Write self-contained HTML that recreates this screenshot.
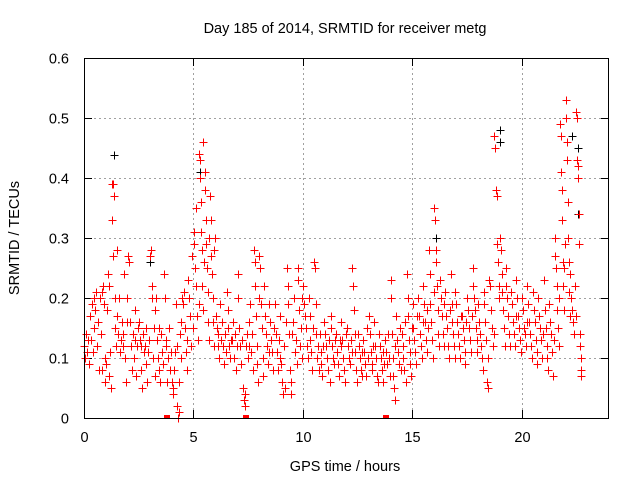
<!DOCTYPE html>
<html><head><meta charset="utf-8"><style>
html,body{margin:0;padding:0;background:#fff;}
svg{display:block;font-family:"Liberation Sans",sans-serif;}
</style></head><body>
<svg id="chart" width="640" height="480" xmlns="http://www.w3.org/2000/svg">
<rect x="0" y="0" width="640" height="480" fill="#fff"/>
<text x="345" y="33" font-size="14.5" text-anchor="middle" fill="#000">Day 185 of 2014, SRMTID for receiver metg</text>
<text transform="translate(19,238) rotate(-90)" font-size="14.5" text-anchor="middle" fill="#000">SRMTID / TECUs</text>
<text x="345" y="471" font-size="14.5" text-anchor="middle" fill="#000">GPS time / hours</text>
<g id="grid" shape-rendering="crispEdges"></g>
<g id="ticks"></g>
<g id="black" shape-rendering="crispEdges"></g>
<g id="red" shape-rendering="crispEdges"></g>
<rect x="84.5" y="58.5" width="524" height="360" fill="none" stroke="#000" stroke-width="1" shape-rendering="crispEdges"/>
</svg>
<script>
const xTicks=[0,5,10,15,20];
const yTicks=[0,0.1,0.2,0.3,0.4,0.5,0.6];
const yTickLabels=["0","0.1","0.2","0.3","0.4","0.5","0.6"];
const binWidth=0.25;
const redBins=[
[0.12,0.10,0.14,0.11,0.13,0.09],[0.17,0.13,0.19,0.11,0.15,0.2],[0.18,0.21,0.12,0.16,0.08,0.2],[0.14,0.21,0.08,0.22,0.19,0.1,0.06],
[0.09,0.18,0.24,0.07,0.22,0.11,0.05],[0.39,0.33,0.27,0.39,0.37,0.2,0.15,0.12,0.28],[0.17,0.14,0.2,0.11,0.13,0.16],[0.12,0.14,0.24,0.1,0.06,0.16,0.2],
[0.27,0.26,0.16,0.12,0.08,0.14],[0.1,0.18,0.13,0.07,0.12,0.15],[0.16,0.13,0.12,0.08,0.05,0.14,0.11],[0.12,0.15,0.09,0.06,0.11,0.13],
[0.27,0.28,0.22,0.2,0.1,0.15,0.07],[0.18,0.2,0.13,0.1,0.15,0.08,0.06],[0.14,0.11,0.09,0.24,0.2,0.12],[0.13,0.06,0.1,0.15,0.08,0.11],
[0.06,0.05,0.04,0.08,0.11,0.19,0.12],[0.02,0.0,0.06,0.01,0.14,0.1,0.16,0.2],[0.19,0.21,0.15,0.11,0.08,0.13],[0.23,0.2,0.17,0.12,0.27,0.15],
[0.31,0.29,0.25,0.22,0.35,0.17,0.13,0.19],[0.44,0.43,0.4,0.36,0.31,0.28,0.22,0.18,0.46,0.26],[0.41,0.38,0.33,0.29,0.25,0.21,0.16,0.13,0.3],[0.37,0.33,0.27,0.24,0.2,0.16,0.12,0.28,0.3],
[0.17,0.15,0.12,0.14,0.1,0.19],[0.13,0.16,0.12,0.09,0.14,0.11],[0.21,0.18,0.15,0.12,0.1,0.13],[0.13,0.16,0.1,0.14,0.08,0.12],
[0.24,0.2,0.15,0.12,0.09,0.13],[0.05,0.03,0.04,0.02,0.12,0.14,0.1],[0.12,0.16,0.19,0.11,0.14,0.08],[0.28,0.26,0.22,0.17,0.12,0.09,0.06,0.2],
[0.27,0.25,0.19,0.15,0.1,0.07,0.22],[0.17,0.14,0.12,0.09,0.19,0.11],[0.16,0.13,0.11,0.08,0.15,0.19],[0.14,0.11,0.08,0.13,0.1,0.17],
[0.09,0.06,0.04,0.12,0.05,0.16],[0.25,0.22,0.19,0.14,0.08,0.06,0.04],[0.14,0.16,0.2,0.11,0.13,0.09],[0.25,0.23,0.18,0.12,0.15,0.1,0.2],
[0.22,0.19,0.17,0.15,0.12,0.1],[0.2,0.17,0.13,0.11,0.08,0.15],[0.26,0.25,0.19,0.14,0.1,0.12,0.08],[0.14,0.11,0.09,0.07,0.12,0.16],
[0.14,0.12,0.1,0.08,0.13,0.06],[0.17,0.15,0.12,0.1,0.09,0.13],[0.14,0.11,0.09,0.07,0.13,0.12],[0.16,0.13,0.1,0.08,0.06,0.14],
[0.15,0.12,0.1,0.09,0.13,0.11],[0.25,0.22,0.18,0.14,0.11,0.08,0.06],[0.14,0.12,0.1,0.08,0.07,0.11],[0.13,0.11,0.09,0.07,0.15,0.1],
[0.17,0.14,0.11,0.09,0.08,0.12],[0.16,0.12,0.1,0.07,0.06,0.14],[0.12,0.1,0.08,0.06,0.11,0.09],[0.13,0.11,0.09,0.14,0.1,0.07],
[0.23,0.2,0.14,0.1,0.07,0.05,0.03,0.12],[0.17,0.13,0.11,0.09,0.15,0.08],[0.14,0.12,0.1,0.08,0.16,0.06],[0.24,0.2,0.17,0.13,0.11,0.09,0.07,0.15],
[0.19,0.15,0.13,0.11,0.09,0.17],[0.2,0.17,0.14,0.12,0.1,0.16],[0.22,0.19,0.16,0.13,0.11,0.18,0.15],[0.28,0.24,0.19,0.16,0.13,0.1,0.21],
[0.35,0.33,0.28,0.26,0.22,0.18,0.14,0.12],[0.23,0.2,0.17,0.14,0.12,0.19],[0.21,0.17,0.15,0.12,0.1,0.18],[0.24,0.19,0.16,0.14,0.12,0.1,0.21],
[0.19,0.16,0.14,0.12,0.1,0.17],[0.17,0.15,0.13,0.11,0.09,0.16],[0.2,0.18,0.15,0.13,0.11,0.17],[0.25,0.22,0.2,0.18,0.15,0.13,0.11],
[0.19,0.16,0.14,0.12,0.1,0.08],[0.21,0.19,0.16,0.13,0.06,0.05,0.1],[0.23,0.22,0.18,0.15,0.12,0.14],[0.47,0.45,0.38,0.37,0.29,0.26,0.22,0.2],
[0.3,0.28,0.24,0.21,0.18,0.15,0.12],[0.25,0.22,0.2,0.17,0.14,0.12],[0.21,0.19,0.16,0.14,0.12,0.17],[0.23,0.2,0.17,0.15,0.13,0.11],
[0.2,0.18,0.15,0.14,0.12,0.16],[0.22,0.19,0.16,0.14,0.12,0.1],[0.21,0.18,0.16,0.13,0.11,0.09],[0.2,0.17,0.15,0.13,0.1,0.14],
[0.23,0.18,0.15,0.12,0.1,0.08],[0.19,0.16,0.14,0.11,0.07,0.13],[0.3,0.27,0.25,0.22,0.18,0.15,0.12,0.2],[0.49,0.47,0.41,0.38,0.33,0.26,0.22,0.18,0.25,0.29],
[0.53,0.5,0.46,0.43,0.36,0.3,0.26,0.21,0.17,0.24],[0.2,0.18,0.16,0.14,0.22,0.17],[0.51,0.5,0.43,0.42,0.4,0.34,0.29,0.14,0.12,0.1,0.08,0.07]
];
const blackTimes=[0.1,1.35,1.35,3.0,5.3,14.8,16.1,19.0,19.0,22.3,22.6,22.6,21.9];
const blackValues=[0.14,0.438,0.37,0.26,0.41,0.2,0.3,0.48,0.46,0.47,0.34,0.45,0.22];
const zeroTimes=[3.8,7.4,13.8];

const L=84,R=609,T=58,B=418,XMAX=24,YMAX=0.6;
const sx=v=>L+(v/XMAX)*(R-L);
const sy=v=>B-(v/YMAX)*(B-T);
const NS="http://www.w3.org/2000/svg";
function mk(tag,attrs,parent){const e=document.createElementNS(NS,tag);for(const k in attrs)e.setAttribute(k,attrs[k]);parent.appendChild(e);return e;}
const grid=document.getElementById('grid'),ticks=document.getElementById('ticks');
yTicks.forEach((v,i)=>{
  const y=Math.round(sy(v))+0.5;
  if(i>0&&i<yTicks.length-1){const g=mk('line',{x1:L,x2:R,y1:y,y2:y,stroke:'#a0a0a0','stroke-dasharray':'2,3'},grid);
  
  }
  mk('line',{x1:L,x2:L+8,y1:y,y2:y,stroke:'#000','shape-rendering':'crispEdges'},ticks);
  mk('line',{x1:R-8,x2:R,y1:y,y2:y,stroke:'#000','shape-rendering':'crispEdges'},ticks);
  const t=mk('text',{x:L-15,y:y+5,'font-size':14.5,'text-anchor':'end'},ticks);t.textContent=yTickLabels[i];
  
  
});
xTicks.forEach(v=>{
  const x=Math.round(sx(v))+0.5;
  if(v>0){const g=mk('line',{x1:x,x2:x,y1:T,y2:B,stroke:'#a0a0a0','stroke-dasharray':'2,3'},grid);
  
  }
  mk('line',{x1:x,x2:x,y1:B-8,y2:B,stroke:'#000','shape-rendering':'crispEdges'},ticks);
  mk('line',{x1:x,x2:x,y1:T,y2:T+8,stroke:'#000','shape-rendering':'crispEdges'},ticks);
  const t=mk('text',{x:x,y:B+24,'font-size':14.5,'text-anchor':'middle'},ticks);t.textContent=String(v);
  
  
});
function plus(g,t,v,color){
  const x=Math.round(sx(t))+0.5,y=Math.round(sy(v))+0.5;
  const p=mk('path',{d:`M${x-4},${y}h8M${x},${y-4}v8`,stroke:color,'stroke-width':1,fill:'none'},g);
  
  
}
const bk=document.getElementById('black'),rd=document.getElementById('red');
blackTimes.forEach((t,i)=>plus(bk,t,blackValues[i],'#000'));
redBins.forEach((vals,b)=>{
  vals.forEach((v,j)=>plus(rd,b*binWidth+(j+0.5)/vals.length*binWidth,v,'#ff0000'));
});
zeroTimes.forEach(t=>{
  const r=mk('rect',{x:Math.round(sx(t))-3,y:B-3,width:6,height:4,fill:'#ff0000'},rd);
  
  
});
</script>
</body></html>
